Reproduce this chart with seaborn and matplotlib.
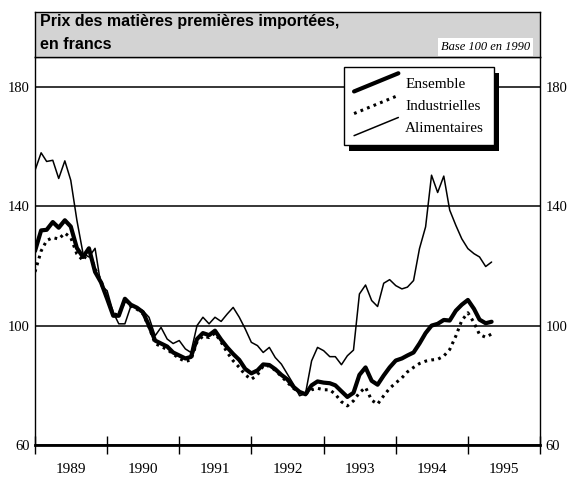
import pandas as pd
import numpy as np
import matplotlib
matplotlib.use("Agg")
import matplotlib.pyplot as plt
import seaborn as sns
from matplotlib.lines import Line2D
from matplotlib.patches import Rectangle
from matplotlib.legend_handler import HandlerLine2D

# monthly indices, base 100 in 1990, January 1989 to May 1995
ensemble = [125, 131.9, 132.1, 134.7, 132.8, 135.3, 133.2, 126, 123, 125.9,
            118, 114.5, 109, 103.3, 103.3, 109, 107, 106, 104.5, 100,
            95, 94, 93, 91, 90, 89, 89.5, 95.5, 97.5, 96.8,
            98.3, 95.3, 92.7, 90.5, 88.5, 85.5, 84, 85, 87, 86.8,
            85.4, 83.5, 82, 79.5, 77.8, 77, 80, 81.3, 80.9, 80.7,
            80, 78, 76.1, 77.5, 83.5, 86, 81.5, 80.2, 83.3, 86,
            88.3, 89, 90, 91, 94, 97.5, 100, 100.6, 101.9, 101.7,
            105, 107, 108.6, 105.6, 102, 100.8, 101.3]
industrielles = [118, 125, 128.5, 129.5, 129, 131, 129.5, 124, 121.8, 125,
                 119, 115, 109, 104, 103.5, 108.5, 106.5, 105.5, 104, 99.5,
                 94, 93, 92, 90.5, 89, 88, 88.5, 94.5, 96.5, 96,
                 97.5, 94.5, 91, 88.2, 86, 83.5, 82, 83.5, 86.5, 86.5,
                 85, 83, 81, 79, 77.5, 77, 78.5, 79, 78.5, 78.5,
                 77, 74.5, 73.1, 74.8, 77.5, 79.3, 75, 73.7, 76.5, 79,
                 80.8, 82.5, 84.5, 86, 87.3, 88.1, 88.5, 88.7, 89.8, 92,
                 96.5, 101.7, 104.3, 101, 97, 96.1, 97.2]
alimentaires = [152, 157.9, 155, 155.4, 149.3, 155.2, 148.7, 135.3, 124.2, 123,
                125.9, 113.4, 111.7, 104.4, 100.6, 100.6, 106.5, 106.1, 105, 102.8,
                96.6, 99.4, 95.5, 94, 95, 92.2, 91, 100, 102.8, 100.6,
                102.8, 101.4, 103.9, 106.1, 102.8, 98.9, 94.4, 93.3, 91, 92.7,
                89.3, 87.1, 83.8, 80.4, 76.5, 77.2, 88.2, 92.7, 91.6, 89.6,
                89.6, 86.9, 89.9, 91.8, 110.6, 113.6, 108.4, 106.4, 114.2, 115.4,
                113.4, 112.3, 112.9, 115.1, 125.8, 133.1, 150.4, 144.6, 150.1, 138.7,
                133.6, 129.1, 125.8, 124.1, 123, 119.8, 121.3]
years = [1989, 1990, 1991, 1992, 1993, 1994, 1995]
yticks = [60, 100, 140, 180]

months = pd.date_range("1989-01-01", periods=len(ensemble), freq="MS")
df = pd.DataFrame({"mois": months, "Ensemble": ensemble,
                   "Industrielles": industrielles, "Alimentaires": alimentaires})


class SlantHandler(HandlerLine2D):
    """Draw legend keys as rising diagonal strokes."""
    def create_artists(self, legend, orig_handle, xdescent, ydescent,
                       width, height, fontsize, trans):
        line = Line2D([-xdescent, width - xdescent],
                      [-ydescent - 0.35 * height, 1.35 * height - ydescent])
        self.update_prop(line, orig_handle, legend)
        line.set_transform(trans)
        return [line]


sns.set_theme(style="white")
plt.rcParams["font.family"] = ["Liberation Serif", "DejaVu Serif"]
plt.rcParams["text.color"] = "black"
plt.rcParams["xtick.color"] = "black"
plt.rcParams["ytick.color"] = "black"
plt.rcParams["axes.labelcolor"] = "black"

fig = plt.figure(figsize=(5.67, 4.79), dpi=100)
W, H = 567, 479
left, right, top, bottom = 35, 540, 57, 445
ax = fig.add_axes([left / W, 1 - bottom / H, (right - left) / W, (bottom - top) / H])

sns.lineplot(data=df, x="mois", y="Ensemble", ax=ax, color="black", lw=3.0,
             label="Ensemble")
sns.lineplot(data=df, x="mois", y="Industrielles", ax=ax, color="black", lw=2.2,
             ls=(0, (0.9, 1.4)), label="Industrielles")
sns.lineplot(data=df, x="mois", y="Alimentaires", ax=ax, color="black", lw=1.1,
             label="Alimentaires")

ax.set_ylim(60, 190)
ax.set_xlim(pd.Timestamp("1989-01-01"), pd.Timestamp("1996-01-01"))
ax.set_xlabel("")
ax.set_ylabel("")
ax.set_yticks(yticks)
ax.set_yticklabels([str(v) for v in yticks])
ax.yaxis.grid(True, color="black", lw=1.1)
ax.set_axisbelow(True)
ax.tick_params(axis="y", left=False, right=False, length=0, labelleft=True,
               labelright=True, labelsize=10.5, pad=4, labelcolor="black")

# year boundaries as ticks, labels centred between them
ax.set_xticks([pd.Timestamp(f"{y}-01-01") for y in years + [1996]])
ax.set_xticklabels([])
ax.set_xticks([pd.Timestamp(f"{y}-07-02") for y in years], minor=True)
ax.set_xticklabels([str(y) for y in years], minor=True)
ax.tick_params(axis="x", which="major", direction="inout", length=13, width=1,
               color="black", bottom=True)
ax.tick_params(axis="x", which="minor", length=0, labelsize=11, pad=13,
               labelcolor="black")

for side in ["left", "right", "top"]:
    ax.spines[side].set_color("black")
    ax.spines[side].set_linewidth(1)
ax.spines["bottom"].set_color("black")
ax.spines["bottom"].set_linewidth(2)

leg = ax.legend(handler_map={Line2D: SlantHandler()}, loc="upper right",
                bbox_to_anchor=(0.909, 0.974), fontsize=11, frameon=True,
                fancybox=False, edgecolor="black", framealpha=1,
                handlelength=2.9, handletextpad=0.45, labelspacing=0.55,
                borderpad=0.65, borderaxespad=0, labelcolor="black")
leg.get_frame().set_linewidth(1)
leg.set_zorder(5)

# header band with the title
head = fig.add_axes([left / W, 1 - top / H, (right - left) / W, (top - 12) / H])
head.set_facecolor("#d3d3d3")
head.set_xticks([])
head.set_yticks([])
for s in head.spines.values():
    s.set_color("black")
    s.set_linewidth(1)
head.text(0.010, 0.78, "Prix des matières premières importées,", transform=head.transAxes,
          fontsize=11.5, fontweight="bold", family="Liberation Sans", va="center",
          color="black")
head.text(0.010, 0.28, "en francs", transform=head.transAxes,
          fontsize=11.5, fontweight="bold", family="Liberation Sans", va="center",
          color="black")
head.text(0.980, 0.22, "Base 100 en 1990", transform=head.transAxes, fontsize=9,
          style="italic", ha="right", va="center", color="black",
          bbox=dict(facecolor="white", edgecolor="none", pad=2))

# solid drop shadow behind the legend box
fig.canvas.draw()
bb = leg.get_window_extent().transformed(ax.transAxes.inverted())
dx, dy = 5 / (right - left), 6 / (bottom - top)
shadow = Rectangle((bb.x0 + dx, bb.y0 - dy), bb.width, bb.height, transform=ax.transAxes,
                   facecolor="black", edgecolor="none", zorder=4.5)
ax.add_patch(shadow)

fig.savefig("out.png", dpi=100)
